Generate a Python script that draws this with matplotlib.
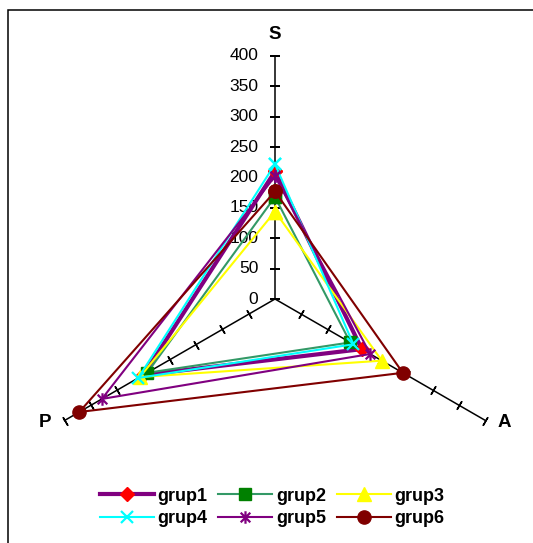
import numpy as np
import matplotlib
matplotlib.use("Agg")
import matplotlib.pyplot as plt
from matplotlib.path import Path
from matplotlib.patches import Rectangle

plt.rcParams["font.family"] = ["Liberation Sans", "DejaVu Sans"]

# axes of the radar, clockwise from the top
axis_names = ["S", "A", "P"]
axis_angles = [90, -30, 210]  # degrees
ticks = [0, 50, 100, 150, 200, 250, 300, 350, 400]

groups = ["grup1", "grup2", "grup3", "grup4", "grup5", "grup6"]
vals_S = [210, 168, 144, 222, 202, 177]
vals_A = [165, 143, 203, 149, 181, 243]
vals_P = [250, 243, 257, 260, 329, 372]

# Excel-like asterisk: an x plus a vertical bar
star = Path([(-1, -1), (1, 1), (-1, 1), (1, -1), (0, -1.3), (0, 1.3)],
            [Path.MOVETO, Path.LINETO, Path.MOVETO, Path.LINETO,
             Path.MOVETO, Path.LINETO])

styles = [
    dict(color="#800080", lw=3.0, marker="D", ms=7.5, mfc="#ff0000", mec="#ff0000"),
    dict(color="#339966", lw=1.5, marker="s", ms=8.5, mfc="#008000", mec="#008000"),
    dict(color="#ffff00", lw=1.5, marker="^", ms=9.5, mfc="#ffff00", mec="#ffff00"),
    dict(color="#00ffff", lw=1.5, marker="x", ms=9, mfc="#00ffff", mec="#00ffff", mew=1.6),
    dict(color="#800080", lw=1.5, marker=star, ms=9, mfc="#800080", mec="#800080", mew=1.6),
    dict(color="#800000", lw=1.5, marker="o", ms=9.5, mfc="#800000", mec="#800000"),
]

PX = 0.6075  # pixels per data unit
CX, CY = 275, 299  # centre in pixels
W, H = 533, 543


def main():
    fig = plt.figure(figsize=(W / 100, H / 100), dpi=100)
    ax = fig.add_axes([0, 0, 1, 1])
    ax.set_xlim(-CX / PX, (W - CX) / PX)
    ax.set_ylim(-(H - CY) / PX, CY / PX)
    ax.axis("off")

    # outer frame of the chart area (cut off at right and bottom)
    fig.patches.append(Rectangle((7.5 / W, -0.1), 1.2, 1.1 - 10.5 / H,
                                 transform=fig.transFigure, fill=False,
                                 ec="black", lw=1.1))

    ang = np.radians(axis_angles)
    t = np.array(ticks, dtype=float)
    for name, a, deg in zip(axis_names, ang, axis_angles):
        ax.plot([0, 400 * np.cos(a)], [0, 400 * np.sin(a)], color="black",
                lw=1.1, zorder=1)
        tt = t if name == "S" else t[1:]
        ax.plot(tt * np.cos(a), tt * np.sin(a), ls="none",
                marker=(2, 2, deg), ms=7, mew=1.1, color="black", zorder=1)

    for v in ticks:
        ax.annotate(str(v), (0, v), xytext=(-12, 0), textcoords="offset points",
                    ha="right", va="center", fontsize=12.5, zorder=0)

    ax.text(0, 436, "S", ha="center", va="center", fontsize=13.5, fontweight="bold")
    ax.text(378, -203, "A", ha="center", va="center", fontsize=13.5, fontweight="bold")
    ax.text(-378, -203, "P", ha="center", va="center", fontsize=13.5, fontweight="bold")

    closed = np.append(ang, ang[0])
    lines = []
    for i, g in enumerate(groups):
        r = np.array([vals_S[i], vals_A[i], vals_P[i], vals_S[i]], dtype=float)
        ln, = ax.plot(r * np.cos(closed), r * np.sin(closed), label=g,
                      zorder=2 + i, clip_on=False, **styles[i])
        lines.append(ln)

    # legend filled row by row like Excel (matplotlib fills by column)
    order = [0, 3, 1, 4, 2, 5]
    fig.legend([lines[k] for k in order], [groups[k] for k in order],
               loc="center", bbox_to_anchor=(272 / W, 1 - 507.5 / H), ncol=3,
               frameon=False, prop=dict(size=13, weight="bold"),
               handlelength=3.0, handletextpad=0.2, columnspacing=0.6,
               labelspacing=0.3, borderpad=0)

    fig.savefig("out.png", dpi=100)


if __name__ == "__main__":
    main()
